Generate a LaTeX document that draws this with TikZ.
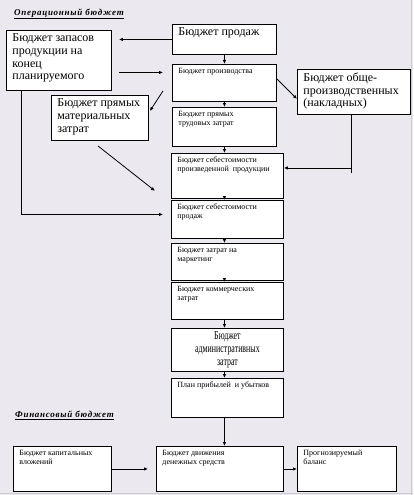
\documentclass[tikz,border=0pt]{standalone}
\usepackage{fontspec}
\setmainfont{Liberation Serif}
\newfontfamily\condfont[FakeStretch=0.66]{Liberation Serif}
\newfontfamily\ttlfont[LetterSpace=8]{Liberation Serif}
\usetikzlibrary{arrows.meta,calc,positioning}
\definecolor{pagebg}{RGB}{235,233,239}
\definecolor{edgegray}{RGB}{205,203,210}
\newcommand{\cell}[3]{\parbox[t][\dimexpr#2pt-7pt\relax][t]{\dimexpr#1pt-12pt\relax}{\raggedright #3}}

\begin{document}
\begin{tikzpicture}[x=1pt,y=-1pt,>={Latex[length=4pt,width=3.5pt]},
  blk/.style={draw,line width=0.9pt,fill=white,anchor=north west,inner xsep=6pt,inner ysep=3.5pt},
  lg/.style={font=\fontsize{12}{12.6}\selectfont},
  sm/.style={font=\fontsize{8}{9.3}\selectfont},
  ttl/.style={font=\ttlfont\fontsize{9}{10}\selectfont\bfseries\itshape,anchor=west,inner sep=0pt},
  arr/.style={->,line width=0.8pt}]
\fill[pagebg] (0,0) rectangle (413,495);
\useasboundingbox (0,0) rectangle (413,495);
\draw[edgegray,line width=1.5pt] (411.5,0) -- (411.5,495);
\draw[edgegray,line width=1.5pt] (0,493.5) -- (413,493.5);

% operating budget
\node[ttl] (op) at (14,14) {\underline{Операционный бюджет}};
\node[blk,lg] (zap) at (6,30) {\cell{105}{60}{Бюджет запасов\\продукции на\\конец\\планируемого}};
\node[blk,lg] (prodazh) at (172,24) {\cell{104}{30}{Бюджет продаж}};
\node[blk,sm] (proizv) at (172,64) {\cell{104}{37}{Бюджет производства}};
\node[blk,sm] (trud) at (172,107) {\cell{104}{39}{Бюджет прямых\\трудовых затрат}};
\node[blk,lg] (nakl) at (297,69) {\cell{113}{45}{Бюджет обще-\\производственных\\(накладных)}};
\node[blk,lg] (mat) at (51,95) {\cell{97}{45}{Бюджет прямых\\материальных\\затрат}};
\node[blk,sm] (sebpr) at (171,153) {\cell{112}{45}{Бюджет себестоимости\\произведенной \ продукции}};
\node[blk,sm] (sebprod) at (171,200) {\cell{112}{38}{Бюджет себестоимости\\продаж}};
\node[blk,sm] (market) at (171,243) {\cell{112}{37}{Бюджет затрат на\\маркетинг}};
\node[blk,sm] (komm) at (171,282) {\cell{112}{37}{Бюджет коммерческих\\затрат}};
\node[blk,lg] (adm) at (171,328) {\parbox[t][36pt][t]{100pt}{\centering\condfont Бюджет\\административных\\затрат}};
\node[blk,sm] (plan) at (171,378) {\cell{112}{39}{План прибылей \ и убытков}};

% financial budget
\node[ttl] (fin) at (15,415) {\underline{Финансовый бюджет}};
\node[blk,sm] (kap) at (13,446) {\cell{98}{45}{Бюджет капитальных\\вложений}};
\node[blk,sm] (den) at (156,446) {\cell{127}{45}{Бюджет движения\\денежных средств}};
\node[blk,sm] (bal) at (297,446) {\cell{99}{45}{Прогнозируемый\\баланс}};

% connectors
\draw[arr,shorten >=7pt] (prodazh.west) -- (prodazh.west -| zap.east);
\draw[arr,shorten >=9pt] ([xshift=7pt,yshift=-12pt]zap.east) -- ([yshift=-12pt]zap.east -| proizv.west);
\draw[arr] ([xshift=-9pt,yshift=-8pt]proizv.west) -- ([xshift=1pt,yshift=-16pt]mat.north east);
\draw[arr] ([yshift=4pt]proizv.east) -- ([yshift=-7pt]nakl.west);
\draw[arr] ([xshift=-3pt]nakl.south) |- ([yshift=8pt]sebpr.east);
\draw[line width=0.8pt] ([xshift=-3pt,yshift=8pt]nakl.south |- sebpr.east) -- ++(0,5);
\draw[arr] ([xshift=-2pt,yshift=-5pt]mat.south) -- ([xshift=-16pt,yshift=8pt]sebpr.south west);
\draw[arr] ([xshift=15pt]zap.south west) |- ([xshift=-8pt,yshift=5pt]sebprod.west);
\foreach \a/\b in {prodazh/proizv,proizv/trud,trud/sebpr,sebpr/sebprod,sebprod/market,market/komm,komm/adm,adm/plan,plan/den}
  \draw[arr] (prodazh.south |- \a.south) -- (prodazh.south |- \b.north);
\draw[arr] (kap.east) -- ([xshift=-8pt]den.west);
\draw[arr] (den.east) -- (bal.west);
\end{tikzpicture}
\end{document}
